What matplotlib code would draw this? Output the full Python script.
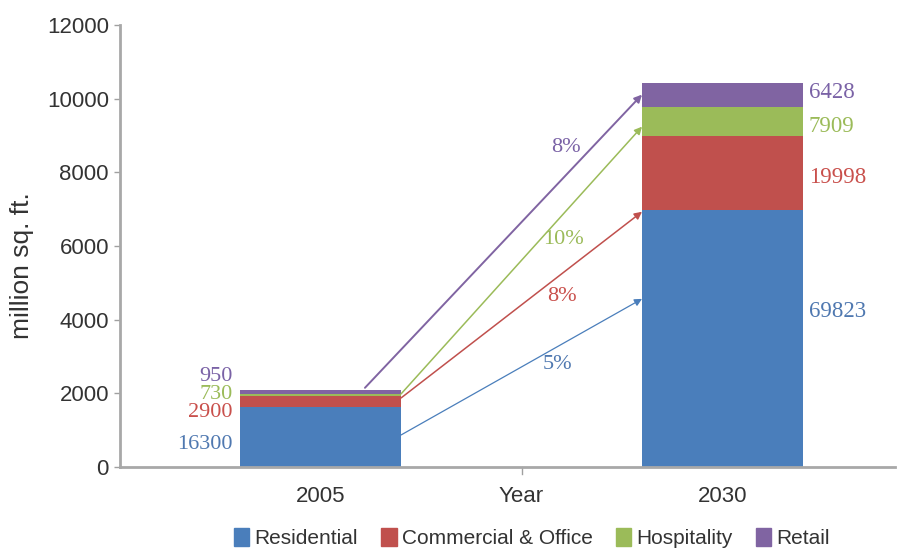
import matplotlib.pyplot as plt
from matplotlib.patches import Patch

# data
years = ["2005", "2030"]
categories = ["Residential", "Commercial & Office", "Hospitality", "Retail"]
colors = ["#4a7ebb", "#c0504d", "#9bbb59", "#8064a2"]
text_colors = ["#4f78b0", "#c9504c", "#9bbb59", "#7a62a6"]

# bar heights (million sq. ft.)
values_2005 = [1630, 290, 73, 95]
values_2030 = [6982, 2000, 791, 643]

# labels as printed in the chart
labels_2005 = ["16300", "2900", "730", "950"]
labels_2030 = ["69823", "19998", "7909", "6428"]

# growth rates and arrow end points (value at 2005 edge -> value at 2030 edge)
growth = ["5%", "8%", "10%", "8%"]
arrow_start = [870, 1875, 1985, 2150]
arrow_end = [4565, 6930, 9240, 10110]
growth_y = [2770, 4620, 6170, 8670]

# label positions
label_y_2005 = [600, 1467, 1957, 2446]
label_y_2030 = [4212, 7853, 9240, 10163]

fig = plt.figure(figsize=(9.13, 5.52), dpi=100)
ax = fig.add_axes([120 / 913, 85 / 552, 775 / 913, 442 / 552])

x_pos = [0, 2]
bottom = [0, 0]
for i, cat in enumerate(categories):
    h = [values_2005[i], values_2030[i]]
    ax.bar(x_pos, h, width=0.8, bottom=bottom, color=colors[i], label=cat)
    bottom = [bottom[0] + h[0], bottom[1] + h[1]]

serif = "Liberation Serif"
for i in range(4):
    ax.text(-0.44, label_y_2005[i], labels_2005[i], color=text_colors[i],
            fontsize=16, family=serif, ha="right", va="center")
    ax.text(2.43, label_y_2030[i], labels_2030[i], color=text_colors[i],
            fontsize=16.5, family=serif, ha="left", va="center")

# arrows between the bars
start_x = [0.4, 0.4, 0.4, 0.22]
widths = [0.9, 1.1, 1.1, 1.4]
growth_x = [1.18, 1.20, 1.21, 1.22]
for i in range(4):
    ax.annotate("", xy=(1.6, arrow_end[i]), xytext=(start_x[i], arrow_start[i]),
                arrowprops=dict(arrowstyle="-|>", color=colors[i], lw=widths[i],
                                mutation_scale=11, shrinkA=0, shrinkB=0))
    ax.text(growth_x[i], growth_y[i], growth[i], color=text_colors[i],
            fontsize=16, family=serif, ha="center", va="center")

ax.set_xlim(-1.0, 2.86)
ax.set_ylim(0, 12000)
ax.set_yticks(range(0, 12001, 2000))
ax.set_xticks([0, 1, 2])
ax.set_xticklabels(["2005", "Year", "2030"])
ax.tick_params(axis="x", length=0, pad=14, labelsize=16, labelcolor="#333333")
ax.tick_params(axis="y", length=4, width=1, color="#a0a0a0", pad=4,
               labelsize=16, labelcolor="#333333")
ax.axvline(1, ymin=-0.015, ymax=0, color="#a0a0a0", lw=1, clip_on=False)
for t in ax.get_xticklabels() + ax.get_yticklabels():
    t.set_family("Liberation Sans")

for s in ["top", "right"]:
    ax.spines[s].set_visible(False)
for s in ["left", "bottom"]:
    ax.spines[s].set_color("#a8a8a8")
    ax.spines[s].set_linewidth(2)

ax.set_ylabel("million sq. ft.", fontsize=19, family="Liberation Sans",
              color="#333333")
ax.yaxis.set_label_coords(-0.111, 0.455)

handles = [Patch(color=c) for c in colors]
fig.legend(handles, categories, loc="center", bbox_to_anchor=(532 / 913, 14 / 552),
           ncol=4, frameon=False, handlelength=0.75, handleheight=1.0,
           handletextpad=0.25, columnspacing=1.1,
           prop={"family": "Liberation Sans", "size": 15})
for t in fig.legends[0].get_texts():
    t.set_color("#333333")

fig.savefig("out.png", dpi=100)
